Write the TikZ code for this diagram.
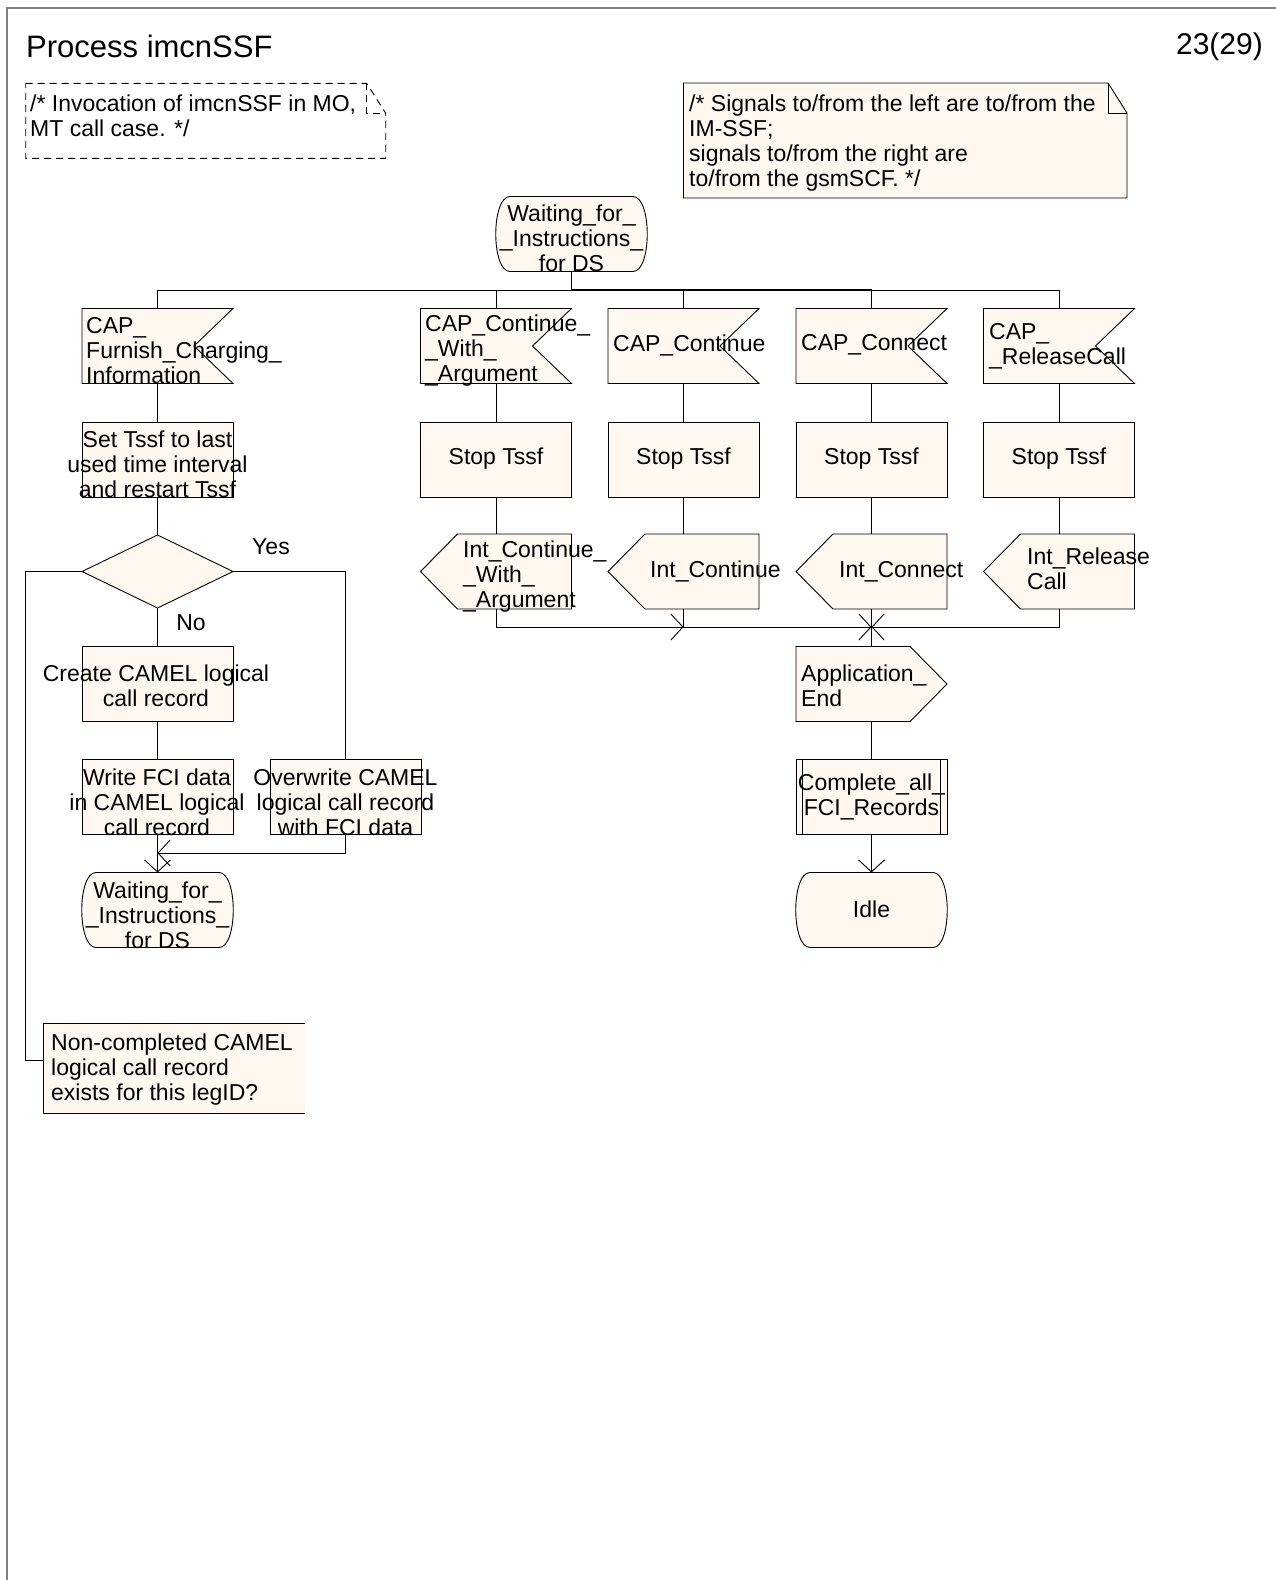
\documentclass[tikz,border=0pt]{standalone}
\usepackage{fontspec}
\setmainfont{Liberation Sans}
\usetikzlibrary{arrows.meta}
\definecolor{sdlfill}{RGB}{255,248,240}
\definecolor{framegray}{RGB}{128,128,128}
\newcommand\sdlinput[1]{\path[shp] (#1.north west) -- (#1.north east) -- ([xshift=-39pt]#1.east) -- (#1.south east) -- (#1.south west) -- cycle;}
\newcommand\sdloutL[1]{\path[shp] ([xshift=37pt]#1.north west) -- (#1.north east) -- (#1.south east) -- ([xshift=37pt]#1.south west) -- (#1.west) -- cycle;}
\newcommand\sdloutR[1]{\path[shp] (#1.north west) -- ([xshift=-37pt]#1.north east) -- (#1.east) -- ([xshift=-37pt]#1.south east) -- (#1.south west) -- cycle;}
\newcommand\sdltask[1]{\path[shp] (#1.north west) rectangle (#1.south east);}
\newcommand\sdlstate[1]{\path[shp] ([xshift=14pt]#1.north west) -- ([xshift=-14pt]#1.north east) .. controls ([xshift=5pt]#1.north east) and ([xshift=5pt]#1.south east) .. ([xshift=-14pt]#1.south east) -- ([xshift=14pt]#1.south west) .. controls ([xshift=-5pt]#1.south west) and ([xshift=-5pt]#1.north west) .. ([xshift=14pt]#1.north west) -- cycle;}
\newcommand\sdlproc[1]{\path[shp] (#1.north west) rectangle (#1.south east); \draw[flow] ([xshift=6.7pt]#1.north west) -- ([xshift=6.7pt]#1.south west) ([xshift=-6.7pt]#1.north east) -- ([xshift=-6.7pt]#1.south east);}
\begin{document}
\begin{tikzpicture}[x=1pt,y=-1pt,
  base/.style={rectangle, inner sep=0pt, outer sep=0pt, minimum width=151pt, minimum height=75pt},
  shp/.style={draw=black, line width=0.9pt, fill=sdlfill, line join=miter},
  flow/.style={draw=black, line width=0.9pt},
  busline/.style={draw=black, line width=1.6pt},
  arr/.style={flow, -{Straight Barb[length=12pt,width=26pt]}},
  txt/.style={font=\fontsize{23pt}{25pt}\selectfont, inner sep=0pt, align=center},
  ltxt/.style={txt, align=left, anchor=west},
]
\useasboundingbox (0,0) rectangle (1276,1580);
\fill[white] (0,0) rectangle (1276,1580);
% frame
\draw[framegray, line width=1.7pt] (7,1580) -- (7,8) -- (1276,8);

% ---------- shape nodes ----------
\node[base] (ws1) at (571.5,234) {};
\node[base] (cfci) at (157.5,346) {};
\node[base] (settssf) at (157.5,459.5) {};
\node[base, minimum height=73pt] (dec) at (157.5,571.5) {};
\node[base] (create) at (157.5,684) {};
\node[base] (writefci) at (157.5,797) {};
\node[base] (overwrite) at (345.5,797) {};
\node[base] (ws2) at (157.5,910) {};
\node[base] (ccwa) at (496,346) {};
\node[base] (ccont) at (683.5,346) {};
\node[base] (cconn) at (871.5,346) {};
\node[base] (crel) at (1059,346) {};
\node[base] (stop1) at (496,459.5) {};
\node[base] (stop2) at (683.5,459.5) {};
\node[base] (stop3) at (871.5,459.5) {};
\node[base] (stop4) at (1059,459.5) {};
\node[base] (icwa) at (496,571.5) {};
\node[base] (icont) at (683.5,571.5) {};
\node[base] (iconn) at (871.5,571.5) {};
\node[base] (irel) at (1059,571.5) {};
\node[base] (app) at (871.5,684) {};
\node[base] (compl) at (871.5,797) {};
\node[base] (idle) at (871.5,910) {};
\node[base, minimum width=262pt, minimum height=90pt] (note) at (174,1068) {};
\node[base, minimum width=443.5pt, minimum height=115pt] (rcom) at (905.25,140.5) {};
\node[base, minimum width=360pt, minimum height=75pt] (lcom) at (205.7,120.8) {};
\coordinate (bus) at (571.5,290);
\coordinate (j1) at (157.5,853);
\coordinate (j2) at (683.5,627);
\coordinate (j3) at (871.5,627);

% ---------- outlines ----------
\sdlstate{ws1}
\sdlstate{ws2}
\sdlstate{idle}
\sdlinput{cfci}
\sdlinput{ccwa}
\sdlinput{ccont}
\sdlinput{cconn}
\sdlinput{crel}
\sdltask{settssf}
\sdltask{create}
\sdltask{writefci}
\sdltask{overwrite}
\sdltask{stop1}
\sdltask{stop2}
\sdltask{stop3}
\sdltask{stop4}
\path[shp] (dec.north) -- (dec.east) -- (dec.south) -- (dec.west) -- cycle;
\sdloutL{icwa}
\sdloutL{icont}
\sdloutL{iconn}
\sdloutL{irel}
\sdloutR{app}
\sdlproc{compl}
% note (open right side)
\fill[sdlfill] (note.north west) rectangle (note.south east);
\draw[flow] (note.north east) -- (note.north west) -- (note.south west) -- (note.south east);
% right comment
\path[shp] (rcom.north west) -- ([xshift=-19pt]rcom.north east) -- ([yshift=-30pt]rcom.north east) -- (rcom.south east) -- (rcom.south west) -- cycle;
\draw[flow] ([xshift=-19pt]rcom.north east) |- ([yshift=-30pt]rcom.north east);
% left comment (dashed)
\draw[flow, dash pattern=on 7pt off 5pt] (lcom.north west) -- ([xshift=-19pt]lcom.north east) -- ([yshift=-30pt]lcom.north east) -- (lcom.south east) -- (lcom.south west) -- cycle;
\draw[flow, dash pattern=on 7pt off 5pt] ([xshift=-19pt]lcom.north east) |- ([yshift=-30pt]lcom.north east);

% ---------- connectors ----------
\draw[busline] (ws1.south) -- (bus);
\draw[flow] (bus) -| (cfci.north);
\draw[flow] (bus) -| (ccwa.north);
\draw[busline] (bus) -| (ccont.north);
\draw[busline] (bus) -| (cconn.north);
\draw[flow] (bus) -| (crel.north);
\draw[flow] (cfci.south) -- (settssf.north);
\draw[flow] (settssf.south) -- (dec.north);
\draw[flow] (dec.east) -| (overwrite.north);
\draw[flow] (dec.south) -- (create.north);
\draw[flow] (create.south) -- (writefci.north);
\draw[arr] (writefci.south) -- (ws2.north);
\draw[arr] (overwrite.south) |- (j1);
\draw[flow] (dec.west) -- ++(-56.8,0) |- ([yshift=8pt]note.west);
\draw[flow] (ccwa.south) -- (stop1.north);
\draw[flow] (ccont.south) -- (stop2.north);
\draw[flow] (cconn.south) -- (stop3.north);
\draw[flow] (crel.south) -- (stop4.north);
\draw[flow] (stop1.south) -- (icwa.north);
\draw[flow] (stop2.south) -- (icont.north);
\draw[flow] (stop3.south) -- (iconn.north);
\draw[flow] (stop4.south) -- (irel.north);
\draw[arr] (icwa.south) |- (j2);
\draw[arr] (icont.south) |- (j3);
\draw[arr] (irel.south) |- (j3);
\draw[flow] (iconn.south) -- (app.north);
\draw[flow] (app.south) -- (compl.north);
\draw[arr] (compl.south) -- (idle.north);

% ---------- texts ----------
\node[anchor=west, inner sep=0pt, font=\fontsize{31pt}{35pt}\selectfont] (title) at (26,46) {Process imcnSSF};
\node[anchor=east, inner sep=0pt, font=\fontsize{30pt}{34pt}\selectfont] (page) at (1263,47) {23(29)};
\node[ltxt] (tlcom) at (30,116) {/* Invocation of imcnSSF in MO,\\MT call case. */};
\node[ltxt] (trcom) at (689,143) {/* Signals to/from the left are to/from the\\IM-SSF;\\signals to/from the right are\\to/from the gsmSCF. */};
\node[txt] (tws1) at (571.5,238) {Waiting\_for\_\\\_Instructions\_\\for DS};
\node[ltxt] (tcfci) at (86,351) {CAP\_\\Furnish\_Charging\_\\Information};
\node[ltxt] (tccwa) at (425,351) {CAP\_Continue\_\\\_With\_\\\_Argument};
\node[ltxt] (tccont) at (613,345) {CAP\_Continue};
\node[ltxt] (tcconn) at (801,345) {CAP\_Connect};
\node[ltxt] (tcrel) at (989,346) {CAP\_\\\_ReleaseCall};
\node[txt] (tset) at (157.5,464.5) {Set Tssf to last\\used time interval\\and restart Tssf};
\node[txt] (tstop1) at (496,459) {Stop Tssf};
\node[txt] (tstop2) at (683.5,459) {Stop Tssf};
\node[txt] (tstop3) at (871.5,459) {Stop Tssf};
\node[txt] (tstop4) at (1059,459) {Stop Tssf};
\node[txt] (tyes) at (271,546.5) {Yes};
\node[txt] (tno) at (191,623) {No};
\node[ltxt] (ticwa) at (463,577) {Int\_Continue\_\\\_With\_\\\_Argument};
\node[ltxt] (ticont) at (650,571.5) {Int\_Continue};
\node[ltxt] (ticonn) at (839,571.5) {Int\_Connect};
\node[ltxt] (tirel) at (1027,569) {Int\_Release\\Call};
\node[txt] (tcreate) at (156,686) {Create CAMEL logical\\call record};
\node[txt] (twrite) at (157,802) {Write FCI data\\in CAMEL logical\\call record};
\node[txt] (tover) at (345.5,802) {Overwrite CAMEL\\logical call record\\with FCI data};
\node[txt] (tws2) at (157.5,915) {Waiting\_for\_\\\_Instructions\_\\for DS};
\node[ltxt] (tapp) at (801,686) {Application\_\\End};
\node[txt] (tcompl) at (871.5,797) {Complete\_all\_\\FCI\_Records};
\node[txt] (tidle) at (871.5,909) {Idle};
\node[ltxt] (tnote) at (51,1070) {Non-completed CAMEL\\logical call record\\exists for this legID?};
\end{tikzpicture}
\end{document}
